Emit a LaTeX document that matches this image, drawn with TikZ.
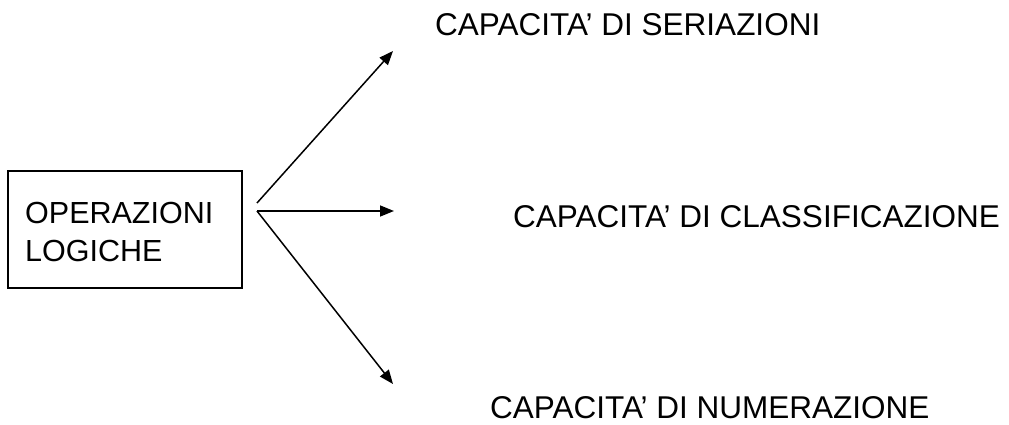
\documentclass[tikz,border=0pt]{standalone}
\usepackage{fontspec}
\setmainfont{Liberation Sans}
\usetikzlibrary{arrows.meta}
\begin{document}
\begin{tikzpicture}[x=1pt,y=-1pt,
  lbl/.style={inner sep=0pt, font=\fontsize{31.5}{38}\selectfont},
  boxlbl/.style={inner sep=0pt, font=\fontsize{30.5}{38}\selectfont},
  conn/.style={line width=1.5pt, -{Triangle[length=14pt,width=11pt]}}]
\useasboundingbox (0,0) rectangle (1009,425);
\draw[line width=1.5pt] (8,171) rectangle (242,288);
\node[boxlbl, anchor=north west, align=left] (box) at (25,202) {OPERAZIONI\\LOGICHE};
\coordinate (s1) at (257,203);
\coordinate (s2) at (257,211);
\coordinate (t1) at (393,51);
\coordinate (t2) at (394,211);
\coordinate (t3) at (393,384);
\node[lbl, anchor=base west] (ser) at (435,36) {CAPACITA’ DI SERIAZIONI};
\node[lbl, anchor=base west] (cla) at (513,227) {CAPACITA’ DI CLASSIFICAZIONE};
\node[lbl, anchor=base west] (num) at (490,418) {CAPACITA’ DI NUMERAZIONE};
\draw[conn] (s1) -- (t1);
\draw[conn] (s2) -- (t2);
\draw[conn] (s2) -- (t3);
\end{tikzpicture}
\end{document}
